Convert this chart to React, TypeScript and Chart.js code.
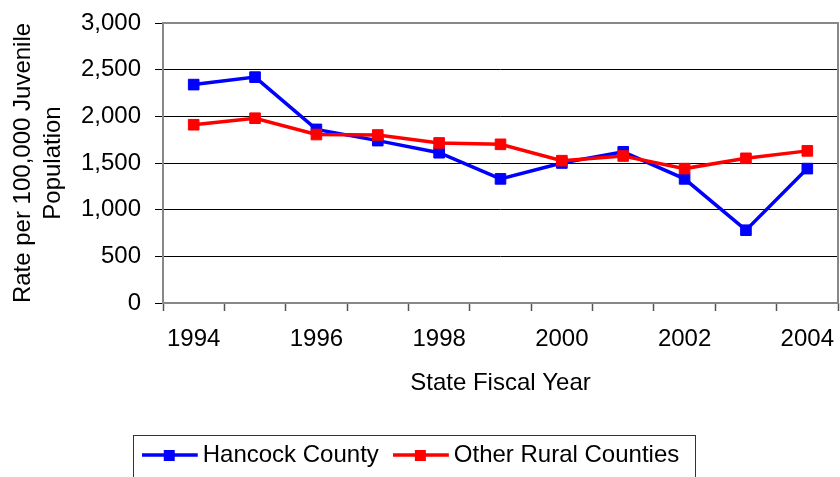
import React, { useEffect, useRef } from "react";
import { Chart, registerables } from "chart.js";

Chart.register(...registerables);

// Fiscal years on the category axis
const years = ["1994", "1995", "1996", "1997", "1998", "1999", "2000", "2001", "2002", "2003", "2004"];
// Rate per 100,000 juvenile population
const hancockCounty = [2340, 2420, 1860, 1740, 1610, 1330, 1500, 1620, 1330, 780, 1440];
const otherRuralCounties = [1910, 1980, 1805, 1800, 1715, 1700, 1525, 1575, 1440, 1550, 1630];
// Only every other year gets a label
const yearTickLabels = ["1994", "", "1996", "", "1998", "", "2000", "", "2002", "", "2004"];

const FONT = "'Liberation Sans', Arial, sans-serif";
const BLUE = "#0000FF";
const RED = "#FF0000";

function makeLegendIcon(color: string): HTMLCanvasElement {
  const c = document.createElement("canvas");
  c.width = 66;
  c.height = 14;
  const g = c.getContext("2d")!;
  g.strokeStyle = color;
  g.lineWidth = 3.5;
  g.beginPath();
  g.moveTo(0, 7);
  g.lineTo(56, 7);
  g.stroke();
  g.fillStyle = color;
  g.fillRect(22, 2, 11, 11);
  return c;
}

const framePlugin = {
  id: "plotFrame",
  beforeDatasetsDraw(chart: any) {
    const { ctx, chartArea } = chart;
    ctx.save();
    ctx.strokeStyle = "#888888";
    ctx.lineWidth = 2;
    ctx.strokeRect(chartArea.left, chartArea.top, chartArea.right - chartArea.left, chartArea.bottom - chartArea.top);
    ctx.restore();
  },
};

const legendBoxPlugin = {
  id: "legendBox",
  afterDraw(chart: any) {
    const lg = chart.legend;
    if (!lg) return;
    const { ctx } = chart;
    ctx.save();
    ctx.strokeStyle = "#333333";
    ctx.lineWidth = 1;
    ctx.strokeRect(133.5, lg.top + 23.5, 562, 80);
    ctx.restore();
  },
};

export default function App() {
  const ref = useRef<HTMLCanvasElement | null>(null);

  useEffect(() => {
    document.body.style.margin = "0";
    const canvas = ref.current;
    if (!canvas) return;
    const icons = [makeLegendIcon(BLUE), makeLegendIcon(RED)];

    const chart = new Chart(canvas, {
      type: "line",
      data: {
        labels: years,
        datasets: [
          {
            label: "Hancock County",
            data: hancockCounty,
            borderColor: BLUE,
            backgroundColor: BLUE,
            borderWidth: 3.5,
            pointStyle: "rect",
            pointRadius: 7.5,
            pointBorderWidth: 1,
            tension: 0,
            order: 1,
          },
          {
            label: "Other Rural Counties",
            data: otherRuralCounties,
            borderColor: RED,
            backgroundColor: RED,
            borderWidth: 3.5,
            pointStyle: "rect",
            pointRadius: 7.5,
            pointBorderWidth: 1,
            tension: 0,
            order: 0,
          },
        ],
      },
      options: {
        responsive: false,
        animation: false,
        layout: { autoPadding: false, padding: { top: 23, right: 2, left: 0, bottom: 0 } },
        plugins: {
          tooltip: { enabled: false },
          legend: {
            position: "bottom",
            labels: {
              usePointStyle: true,
              pointStyleWidth: 32,
              padding: 31,
              color: "#000",
              font: { family: FONT, size: 24 },
              generateLabels: (ch: any) =>
                ch.data.datasets.map((ds: any, i: number) => ({
                  text: ds.label,
                  pointStyle: icons[i],
                  fillStyle: ds.borderColor,
                  strokeStyle: ds.borderColor,
                  lineWidth: 0,
                  hidden: false,
                  datasetIndex: i,
                })),
            },
          },
        },
        scales: {
          x: {
            type: "category",
            offset: true,
            grid: { offset: true, drawOnChartArea: false, tickLength: 8, tickColor: "#555", tickWidth: 1.5 },
            border: { display: false },
            ticks: {
              autoSkip: false,
              maxRotation: 0,
              padding: 13.6,
              color: "#000",
              font: { family: FONT, size: 24 },
              callback: (_v: any, i: number) => yearTickLabels[i],
            },
            title: {
              display: true,
              text: "State Fiscal Year",
              color: "#000",
              font: { family: FONT, size: 24 },
              padding: { top: 0, bottom: 14.6 },
            },
            afterFit: (s: any) => {
              s.height = 109;
              s.paddingLeft = 0;
              s.paddingRight = 0;
            },
          },
          y: {
            min: 0,
            max: 3000,
            grid: { color: "#000", lineWidth: 1, tickLength: 8, tickColor: "#000" },
            border: { display: false },
            ticks: {
              stepSize: 500,
              padding: 14,
              color: "#000",
              font: { family: FONT, size: 24 },
              callback: (v: any) => Number(v).toLocaleString("en-US"),
            },
            title: {
              display: true,
              text: ["Rate per 100,000 Juvenile", "Population"],
              color: "#000",
              font: { family: FONT, size: 24, lineHeight: 1.25 },
              padding: { top: 8.6, bottom: 0 },
            },
            afterFit: (s: any) => {
              s.width = 163;
              s.paddingTop = 0;
              s.paddingBottom = 0;
            },
          },
        },
      },
      plugins: [framePlugin, legendBoxPlugin],
    } as any);

    return () => chart.destroy();
  }, []);

  return (
    <div style={{ width: 840, height: 477 }}>
      <canvas ref={ref} width={840} height={477} />
    </div>
  );
}
